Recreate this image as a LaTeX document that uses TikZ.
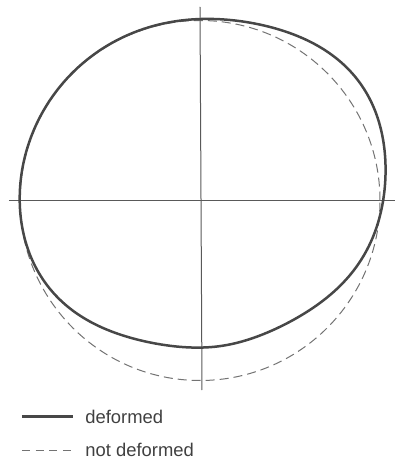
\documentclass[tikz,border=0pt]{standalone}
\usepackage{fontspec}
\setmainfont{Liberation Sans}
\begin{document}
\begin{tikzpicture}[
  x=0.5pt, y=0.5pt,
  axis/.style={draw=black!65, line width=0.5pt},
  deformed/.style={draw=black!72, line width=1.25pt},
  undeformed/.style={draw=black!55, line width=0.5pt, dash pattern=on 4.5pt off 2.5pt},
  legtext/.style={anchor=west, inner sep=0pt, text=black!75, font=\fontsize{9.2}{11}\selectfont},
  declare function={
    bumpd(\t)=min(abs(\t-37),abs(\t-397));
    dipd(\t)=min(abs(\t-278),abs(\t+82));
    rdef(\t)=180.5+18*exp(-min((bumpd(\t)/31)^2,9))-33.5*exp(-min((dipd(\t)/57)^3,9));
  }
]
  \useasboundingbox (-200,200.5) rectangle (195,-259.5);

  % axes
  \coordinate (xl) at (-191,-0.5);
  \coordinate (xr) at (195,-0.5);
  \coordinate (yt) at (0,193.5);
  \coordinate (yb) at (2,-189.5);
  \draw[axis] (xl) -- (xr);
  \draw[axis] (yt) -- (yb);

  % not deformed
  \coordinate (c) at (0,0);
  \draw[undeformed] (c) circle (180);

  % deformed
  \draw[deformed] plot[domain=0:357, samples=120, smooth cycle] (\x:{rdef(\x)});

  % legend
  \coordinate (s1) at (-178,-216);
  \coordinate (s2) at (-127,-216);
  \draw[deformed] (s1) -- (s2);
  \node[legtext] (t1) at (-115,-216) {deformed};
  \coordinate (d1) at (-178,-249.5);
  \coordinate (d2) at (-125,-249.5);
  \draw[undeformed, dash pattern=on 4pt off 2.8pt] (d1) -- (d2);
  \node[legtext] (t2) at (-115,-249.5) {not deformed};
\end{tikzpicture}
\end{document}
